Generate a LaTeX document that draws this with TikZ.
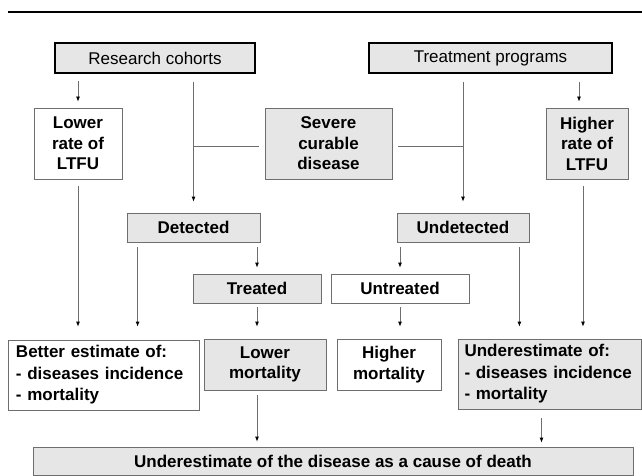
\documentclass[tikz,border=0pt]{standalone}
\usepackage{fontspec}
\usetikzlibrary{arrows.meta}
\newfontfamily\figfont{Liberation Sans}
\definecolor{boxgray}{HTML}{E6E6E6}
\definecolor{linegray}{HTML}{6E6E6E}
\tikzset{
	txt/.style={font=\figfont\fontsize{17}{20.5}\selectfont\bfseries, align=center, inner sep=0pt},
	dims/.style 2 args={minimum width=#1pt, minimum height=#2pt},
	topbox/.style={txt, font=\figfont\fontsize{17}{20.5}\selectfont, draw=black, line width=1.6pt, fill=boxgray},
	graybox/.style={txt, draw=linegray, line width=0.8pt, fill=boxgray},
	whitebox/.style={txt, draw=linegray, line width=0.8pt, fill=white},
	listbox/.style={font=\figfont\fontsize{17}{21.5}\selectfont\bfseries, align=left},
	link/.style={draw=linegray, line width=0.8pt},
	arrow/.style={link, -{Latex[length=5pt, width=4pt, color=black]}, shorten >=6pt}
}

\begin{document}
\begin{tikzpicture}[x=1pt, y=-1pt]
	\useasboundingbox (0,0) rectangle (642,476);
	% rule at the top
	\draw[line width=2pt] (8,12) -- (642,12);

	% where the data come from
	\node[topbox, dims={200}{30}] (rc) at (155, 58) {Research cohorts};
	\node[topbox, dims={243}{30}] (tp) at (490.5, 58) {Treatment programs};

	% loss to follow-up and the disease
	\node[whitebox, dims={88}{71}] (lr) at (78, 143.5) {Lower\\rate of\\LTFU};
	\node[graybox, dims={127}{71}] (sev) at (328.5, 143.5) {Severe\\curable\\disease};
	\node[graybox, dims={82}{71}] (hr) at (587, 143.5) {Higher\\rate of\\LTFU};

	% detection and treatment
	\node[graybox, dims={133}{29}] (det) at (193.5, 227.5) {Detected};
	\node[graybox, dims={132}{29}] (und) at (463, 227.5) {Undetected};
	\node[graybox, dims={128}{29}] (tr) at (257, 288.5) {Treated};
	\node[whitebox, dims={138}{29}] (untr) at (400, 288.5) {Untreated};

	% outcomes
	\node[whitebox, listbox, dims={191}{70}, text width=175pt] (be) at (103.5, 375) {Better estimate of:\\- diseases incidence\\- mortality};
	\node[graybox, dims={122}{51}] (lm) at (265, 364.5) {Lower\\mortality};
	\node[whitebox, dims={104}{51}] (hm) at (389, 364.5) {Higher\\mortality};
	\node[graybox, listbox, dims={183}{70}, text width=170pt] (ue) at (549.5, 374) {Underestimate of:\\- diseases incidence\\- mortality};
	\node[graybox, dims={600}{28}] (bot) at (333, 461) {Underestimate of the disease as a cause of death};

	% connection points off the centres
	\coordinate (sevl) at ([yshift=-3pt]sev.west);
	\coordinate (sevr) at ([yshift=-3pt]sev.east);
	\coordinate (hrin) at ([xshift=-8pt]hr.north);
	\coordinate (hrout) at ([xshift=-4pt]hr.south);
	\coordinate (detout) at ([xshift=11pt]det.south west);
	\coordinate (undout) at ([xshift=-10pt]und.south east);
	\coordinate (ueout) at ([xshift=-8pt]ue.south);

	% connectors
	\draw[arrow, shorten <=7pt] (rc.south -| lr) -- (lr.north);
	\draw[arrow, shorten <=8pt, shorten >=11pt] (rc.south -| det) -- (det.north);
	\draw[link, shorten <=6pt] (sevl) -- (sevl -| det);
	\draw[link, shorten <=6pt] (sevr) -- (sevr -| und);
	\draw[arrow, shorten <=8pt, shorten >=11pt] (tp.south -| und) -- (und.north);
	\draw[arrow, shorten <=8pt] (hrin |- tp.south) -- (hrin);

	\draw[arrow, shorten <=7pt, shorten >=13pt] (lr.south) -- (lr.south |- be.north);
	\draw[arrow, shorten <=5pt, shorten >=13pt] (detout) -- (detout |- be.north);
	\draw[arrow, shorten <=5pt] (det.south -| tr) -- (tr.north);
	\draw[arrow, shorten <=5pt] (und.south -| untr) -- (untr.north);
	\draw[arrow, shorten <=5pt, shorten >=12pt] (undout) -- (undout |- ue.north);
	\draw[arrow, shorten <=7pt, shorten >=12pt] (hrout) -- (hrout |- ue.north);

	\draw[arrow, shorten <=4pt, shorten >=12pt] (tr.south) -- (tr.south |- lm.north);
	\draw[arrow, shorten <=4pt, shorten >=12pt] (untr.south) -- (untr.south |- hm.north);
	\draw[arrow, shorten <=5pt, shorten >=5pt] (tr.south |- lm.south) -- (tr.south |- bot.north);
	\draw[arrow, shorten <=9pt, shorten >=4pt] (ueout) -- (ueout |- bot.north);
\end{tikzpicture}
\end{document}
